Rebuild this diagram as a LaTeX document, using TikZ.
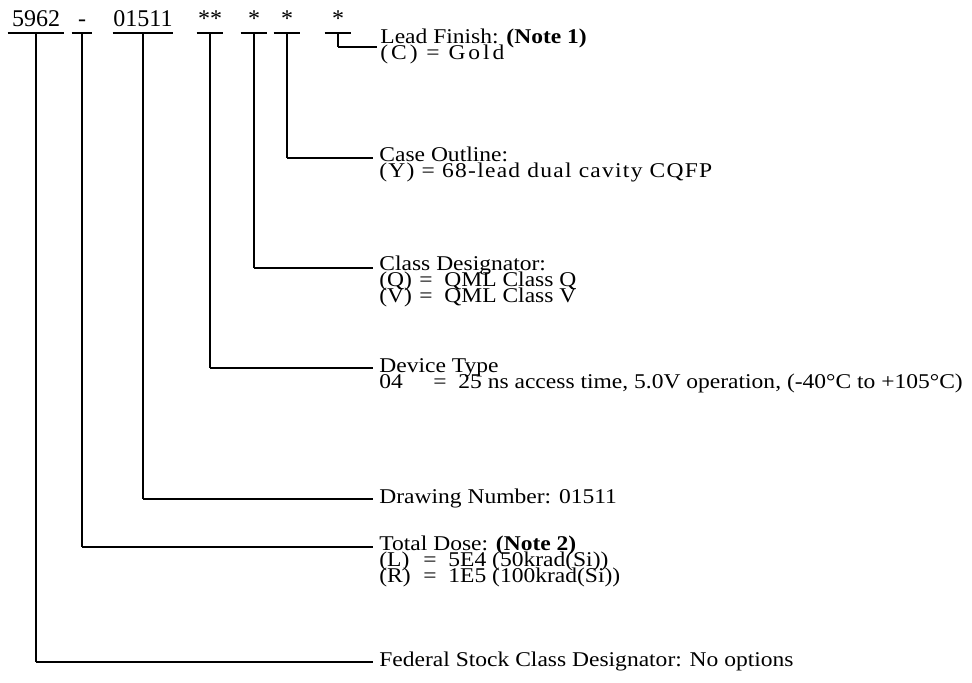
\documentclass[tikz,border=0pt]{standalone}
\usepackage{fontspec}
\setmainfont{Liberation Serif}[FakeStretch=1.12]
\newfontfamily\codefont{Liberation Serif}
\newfontfamily\spacedfont{Liberation Serif}[FakeStretch=1.12, LetterSpace=6]
\newfontfamily\widefont{Liberation Serif}[FakeStretch=1.12, LetterSpace=14]
\usetikzlibrary{calc}
\lineskiplimit=-20pt

\begin{document}
\begin{tikzpicture}[x=0.5pt, y=-0.5pt,
  font=\fontsize{10.5}{8}\selectfont,
  code/.style={anchor=south, inner xsep=0pt, inner ysep=3pt, text depth=0pt,
               font=\codefont\fontsize{12}{14}\selectfont},
  lbl/.style={anchor=base west, align=left, inner sep=0.5pt},
  bar/.style={line width=1.4pt},
  stem/.style={line width=0.65pt},
  lead/.style={line width=1.35pt}
]
\useasboundingbox (0,0) rectangle (972,683);

\node[code, minimum width=28pt] (c5962)  at (36,33)  {5962};
\node[code, minimum width=10pt] (cdash)  at (82,33)  {-};
\node[code, minimum width=30pt] (c01511) at (143,33) {01511};
\node[code, minimum width=13pt] (cdev)   at (210,33) {**};
\node[code, minimum width=13pt] (ccls)   at (254,33) {*};
\node[code, minimum width=13pt] (ccase)  at (287,33) {*};
\node[code, minimum width=13pt] (clead)  at (338,33) {*};

\foreach \c in {c5962, cdash, c01511, cdev, ccls, ccase, clead}
  \draw[bar] (\c.south west) -- (\c.south east);

\coordinate (lead-h) at (377,47);
\coordinate (case-h) at (373,158);
\coordinate (cls-h)  at (373,268);
\coordinate (dev-h)  at (373,368);
\coordinate (dwg-h)  at (373,499);
\coordinate (dose-h) at (373,547);
\coordinate (fsc-h)  at (373,662);

\node[lbl] (lead) at ($(lead-h)+(2,13)$) {Lead Finish: \textbf{(Note 1)}\\{\widefont (C) = Gold}};
\node[lbl] (case) at ($(case-h)+(5,20)$) {Case Outline:\\{\spacedfont (Y) = 68-lead dual cavity CQFP}};
\node[lbl] (cls)  at ($(cls-h)+(5,35)$)  {Class Designator:\\\makebox[20pt][l]{(Q)}= \ QML Class Q\\\makebox[20pt][l]{(V)}= \ QML Class V};
\node[lbl] (dev)  at ($(dev-h)+(5,20)$)  {Device Type\\\makebox[27pt][l]{04}= \ 25 ns access time, 5.0V operation, (-40°C to +105°C)};
\node[lbl] (dwg)  at ($(dwg-h)+(5,4)$)   {Drawing Number: 01511};
\node[lbl] (dose) at ($(dose-h)+(5,35)$) {Total Dose: \textbf{(Note 2)}\\\makebox[22pt][l]{(L)}= \ 5E4 (50krad(Si))\\\makebox[22pt][l]{(R)}= \ 1E5 (100krad(Si))};
\node[lbl] (fsc)  at ($(fsc-h)+(5,4)$)   {Federal Stock Class Designator: No options};

\foreach \c/\h in {c5962/fsc-h, cdash/dose-h, c01511/dwg-h, cdev/dev-h,
                   ccls/cls-h, ccase/case-h, clead/lead-h} {
  \draw[stem] (\c.south) -- (\c.south |- \h);
  \draw[lead] (\c.south |- \h) -- (\h);
}
\end{tikzpicture}
\end{document}
